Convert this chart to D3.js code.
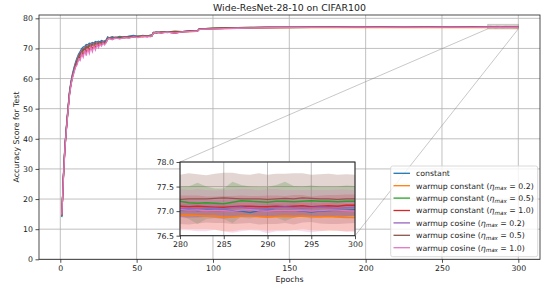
<!DOCTYPE html>
<html>
<head>
<meta charset="utf-8">
<script src="https://cdn.jsdelivr.net/npm/d3@7"></script>
<style>
    body { margin: 0; background: #fff; }
    svg { display: block; font-family: "DejaVu Sans", sans-serif; }
</style>
</head>
<body>
<div id="chart"></div>
<script>
// epochs sampled for the full run (the last 20 epochs come from the inset arrays)
let mainEpochs = [
    1, 2, 3, 4, 5, 6, 7, 8, 9, 10,
    11, 12, 13, 14, 15, 16, 17, 18, 19, 20,
    21, 22, 23, 24, 25, 26, 27, 28, 29, 30,
    31, 32, 34, 36, 39, 42, 45, 48, 51, 54,
    57, 59, 60, 61, 63, 66, 70, 75, 80, 85,
    89, 90, 91, 95, 100, 108, 116, 125, 135, 145,
    155, 165, 180, 195, 210, 225, 240, 255, 270
];
let insetEpochs = [280, 281, 282, 283, 284, 285, 286, 287, 288, 289, 290,
    291, 292, 293, 294, 295, 296, 297, 298, 299, 300];

let seriesNames = ["constant", "warmup constant", "warmup constant", "warmup constant",
    "warmup cosine", "warmup cosine", "warmup cosine"];
let etaMax = [null, 0.2, 0.5, 1.0, 0.2, 0.5, 1.0];

let constantMain = [
    14.0, 27.4, 37.6, 44.2, 50.1, 55.6, 59.1, 61.6, 63.7, 65.4,
    66.9, 68.1, 69.0, 69.9, 70.5, 70.7, 71.3, 71.2, 71.7, 71.6,
    72.0, 71.8, 72.3, 72.1, 72.4, 72.2, 72.6, 72.4, 72.5, 72.8,
    73.8, 73.5, 73.9, 73.6, 74.0, 73.7, 74.1, 74.3, 74.0, 74.3,
    74.1, 74.4, 74.4, 75.3, 75.5, 75.2, 75.6, 75.5, 75.6, 75.7,
    75.8, 75.9, 76.4, 76.5, 76.6, 76.7, 76.75, 76.85, 76.9, 76.9,
    76.95, 77.0, 77.0, 77.05, 77.0, 77.05, 77.0, 77.05, 77.0
];
let wc02Main = [
    14.6, 26.8, 36.9, 43.3, 49.6, 55.1, 58.3, 61.1, 62.9, 64.9,
    66.0, 67.6, 68.0, 69.3, 69.2, 70.4, 70.1, 71.0, 70.6, 71.4,
    71.1, 71.7, 71.3, 71.9, 71.6, 72.0, 71.8, 72.3, 71.9, 72.2,
    73.2, 73.6, 73.2, 73.7, 73.4, 73.8, 73.8, 73.7, 74.1, 73.8,
    74.2, 73.9, 74.1, 75.1, 75.3, 75.2, 75.4, 75.2, 75.5, 75.6,
    75.7, 75.8, 76.3, 76.4, 76.5, 76.6, 76.7, 76.75, 76.8, 76.85,
    76.9, 76.9, 76.95, 76.9, 76.95, 76.9, 76.95, 76.9, 76.9
];
let wc05Main = [
    14.3, 27.2, 37.1, 43.6, 49.4, 54.8, 58.6, 60.7, 63.2, 64.4,
    66.5, 66.8, 68.5, 68.1, 69.9, 69.0, 70.7, 69.8, 71.2, 70.2,
    71.5, 70.8, 71.8, 71.2, 72.0, 71.4, 72.1, 71.7, 72.2, 72.0,
    73.4, 73.2, 73.6, 73.3, 73.8, 73.5, 73.9, 73.8, 74.1, 74.0,
    74.0, 74.3, 74.3, 75.3, 75.1, 75.5, 75.3, 75.6, 75.5, 75.8,
    75.8, 75.9, 76.5, 76.6, 76.7, 76.8, 76.9, 76.95, 77.0, 77.05,
    77.1, 77.1, 77.15, 77.15, 77.2, 77.2, 77.2, 77.2, 77.2
];
let wc10Main = [
    14.7, 26.5, 36.6, 43.2, 49.0, 54.6, 58.0, 60.6, 62.4, 64.1,
    65.0, 67.0, 66.8, 68.6, 67.9, 69.7, 68.8, 70.3, 69.4, 70.8,
    69.9, 71.2, 70.4, 71.5, 70.9, 71.7, 71.2, 71.9, 71.6, 72.0,
    73.1, 73.4, 73.0, 73.5, 73.3, 73.7, 73.5, 73.9, 73.8, 74.1,
    73.9, 74.2, 74.2, 75.2, 75.4, 75.2, 75.5, 75.0, 75.6, 75.7,
    75.8, 75.8, 76.4, 76.5, 76.6, 76.7, 76.8, 76.9, 76.95, 77.0,
    77.0, 77.05, 77.1, 77.1, 77.1, 77.1, 77.1, 77.1, 77.1
];
let cos02Main = [
    14.4, 27.1, 37.2, 43.8, 49.7, 55.2, 58.7, 61.2, 63.1, 65.0,
    66.4, 67.5, 68.5, 69.1, 69.9, 70.2, 70.8, 70.7, 71.3, 71.1,
    71.6, 71.4, 71.9, 71.6, 72.1, 71.8, 72.2, 72.0, 72.3, 72.3,
    73.4, 73.6, 73.3, 73.7, 73.5, 73.9, 73.7, 74.1, 73.9, 74.2,
    74.0, 74.2, 74.2, 75.2, 75.4, 75.3, 75.5, 75.4, 75.6, 75.7,
    75.8, 75.8, 76.4, 76.5, 76.6, 76.7, 76.8, 76.9, 76.95, 77.0,
    77.0, 77.05, 77.05, 77.1, 77.1, 77.1, 77.1, 77.1, 77.1
];
let cos05Main = [
    14.5, 27.0, 36.8, 43.4, 49.3, 54.9, 58.4, 60.9, 62.8, 64.7,
    66.1, 67.1, 68.4, 68.7, 69.8, 69.6, 70.6, 70.3, 71.1, 70.9,
    71.4, 71.3, 71.8, 71.5, 71.9, 71.7, 72.1, 71.9, 72.2, 72.1,
    73.3, 73.5, 73.4, 73.6, 73.6, 73.8, 73.8, 74.0, 73.9, 74.2,
    74.1, 74.3, 74.2, 75.3, 75.2, 75.5, 75.4, 75.7, 75.6, 75.8,
    75.9, 75.9, 76.5, 76.6, 76.7, 76.8, 76.9, 77.0, 77.05, 77.1,
    77.1, 77.15, 77.2, 77.2, 77.25, 77.25, 77.25, 77.25, 77.25
];
let cos10Main = [
    14.8, 26.3, 36.4, 42.9, 48.8, 54.3, 57.8, 60.2, 62.0, 63.8,
    64.6, 66.5, 66.0, 68.2, 67.1, 69.4, 67.6, 70.0, 68.3, 70.5,
    68.9, 70.9, 69.5, 71.3, 70.2, 71.5, 70.8, 71.8, 71.2, 71.9,
    73.0, 73.3, 72.9, 73.4, 73.2, 73.6, 73.4, 73.8, 73.6, 74.0,
    73.8, 74.1, 74.1, 75.1, 75.3, 75.1, 75.4, 75.1, 75.5, 75.6,
    75.7, 75.8, 76.3, 76.4, 76.5, 76.6, 76.7, 76.8, 76.9, 76.95,
    77.0, 77.0, 77.0, 77.05, 77.0, 77.05, 77.0, 77.05, 77.0
];

// last 20 epochs: mean and std over runs
let constantMean = [77.02, 77.03, 77.01, 77.02, 77.03, 77.02, 77.01, 77.00, 76.97, 77.01, 77.02,
    77.02, 77.01, 77.02, 77.00, 76.98, 77.00, 77.01, 77.02, 77.02, 77.03];
let constantStd = [0.12, 0.12, 0.13, 0.12, 0.12, 0.11, 0.12, 0.13, 0.12, 0.12, 0.12,
    0.13, 0.12, 0.12, 0.12, 0.13, 0.12, 0.12, 0.11, 0.12, 0.12];
let wc02Mean = [76.92, 76.92, 76.91, 76.90, 76.90, 76.87, 76.88, 76.90, 76.90, 76.89, 76.88,
    76.89, 76.90, 76.89, 76.90, 76.89, 76.88, 76.89, 76.88, 76.87, 76.87];
let wc02Std = [0.28, 0.29, 0.28, 0.27, 0.28, 0.28, 0.29, 0.28, 0.28, 0.27, 0.28,
    0.28, 0.29, 0.28, 0.27, 0.28, 0.28, 0.29, 0.28, 0.28, 0.27];
let wc05Mean = [77.20, 77.17, 77.16, 77.17, 77.16, 77.15, 77.18, 77.21, 77.20, 77.19, 77.18,
    77.20, 77.20, 77.19, 77.20, 77.21, 77.20, 77.20, 77.19, 77.20, 77.20];
let wc05Std = [0.30, 0.33, 0.42, 0.33, 0.30, 0.31, 0.42, 0.32, 0.30, 0.30, 0.31,
    0.33, 0.40, 0.32, 0.30, 0.31, 0.30, 0.30, 0.31, 0.32, 0.31];
let wc10Mean = [77.10, 77.09, 77.10, 77.09, 77.08, 77.08, 77.09, 77.10, 77.10, 77.09, 77.09,
    77.10, 77.09, 77.10, 77.11, 77.09, 77.10, 77.11, 77.10, 77.12, 77.12];
let wc10Std = [0.22, 0.23, 0.22, 0.21, 0.22, 0.23, 0.22, 0.22, 0.21, 0.22, 0.23,
    0.22, 0.22, 0.23, 0.22, 0.21, 0.22, 0.22, 0.23, 0.22, 0.22];
let cos02Mean = [77.05, 77.06, 77.05, 77.06, 77.06, 77.05, 77.07, 77.08, 77.06, 77.06, 77.05,
    77.07, 77.08, 77.07, 77.06, 77.07, 77.08, 77.07, 77.06, 77.07, 77.08];
let cos02Std = [0.18, 0.18, 0.19, 0.18, 0.17, 0.18, 0.18, 0.19, 0.18, 0.18, 0.17,
    0.18, 0.18, 0.19, 0.18, 0.18, 0.17, 0.18, 0.18, 0.19, 0.18];
let cos05Mean = [77.24, 77.25, 77.25, 77.25, 77.26, 77.27, 77.26, 77.25, 77.25, 77.25, 77.24,
    77.25, 77.26, 77.25, 77.27, 77.26, 77.25, 77.25, 77.24, 77.25, 77.25];
let cos05Std = [0.50, 0.52, 0.50, 0.48, 0.50, 0.51, 0.52, 0.50, 0.49, 0.52, 0.50,
    0.51, 0.50, 0.52, 0.50, 0.48, 0.50, 0.51, 0.50, 0.50, 0.49];
let cos10Mean = [77.03, 77.02, 77.02, 77.01, 77.02, 77.01, 77.00, 77.02, 77.03, 77.01, 77.00,
    77.02, 77.01, 77.02, 77.01, 77.00, 77.01, 77.02, 77.02, 77.01, 77.00];
let cos10Std = [0.42, 0.41, 0.43, 0.42, 0.40, 0.42, 0.44, 0.43, 0.42, 0.41, 0.45,
    0.43, 0.42, 0.41, 0.42, 0.43, 0.42, 0.41, 0.42, 0.43, 0.42];

let mainTicksX = [0, 50, 100, 150, 200, 250, 300];
let mainTicksY = [0, 10, 20, 30, 40, 50, 60, 70, 80];
let insetTicksX = [280, 285, 290, 295, 300];
let insetTicksY = [76.5, 77.0, 77.5, 78.0];

function graph(id) {
    let colours = ["#1f77b4", "#ff7f0e", "#2ca02c", "#d62728", "#9467bd", "#8c564b", "#e377c2"];
    let mains = [constantMain, wc02Main, wc05Main, wc10Main, cos02Main, cos05Main, cos10Main];
    let means = [constantMean, wc02Mean, wc05Mean, wc10Mean, cos02Mean, cos05Mean, cos10Mean];
    let stds = [constantStd, wc02Std, wc05Std, wc10Std, cos02Std, cos05Std, cos10Std];

    let series = seriesNames.map((name, k) => ({
        name: name,
        eta: etaMax[k],
        colour: colours[k],
        line: mainEpochs.map((e, i) => ({ x: e, y: mains[k][i] }))
            .concat(insetEpochs.map((e, i) => ({ x: e, y: means[k][i] }))),
        band: insetEpochs.map((e, i) => ({ x: e, y: means[k][i], s: stds[k][i] }))
    }));

    let width = 541, height = 285;
    let svg = d3.select(id).append("svg")
        .attr("width", width)
        .attr("height", height);

    // main axes
    let x = d3.scaleLinear().domain([-13.95, 314.2]).range([39, 540]);
    let y = d3.scaleLinear().domain([0, 81.1]).range([259.3, 15]);

    svg.append("defs").append("clipPath").attr("id", "clipMain")
        .append("rect").attr("x", 39).attr("y", 15).attr("width", 501).attr("height", 244.3);

    let grid = svg.append("g").attr("stroke", "#b0b0b0").attr("stroke-width", 0.8);
    grid.selectAll(".gx").data(mainTicksX).enter().append("line")
        .attr("x1", d => x(d)).attr("x2", d => x(d)).attr("y1", 15).attr("y2", 259.3);
    grid.selectAll(".gy").data(mainTicksY).enter().append("line")
        .attr("x1", 39).attr("x2", 540).attr("y1", d => y(d)).attr("y2", d => y(d));

    let plot = svg.append("g").attr("clip-path", "url(#clipMain)");
    let area = d3.area().x(d => x(d.x)).y0(d => y(d.y - d.s)).y1(d => y(d.y + d.s));
    let line = d3.line().x(d => x(d.x)).y(d => y(d.y));
    series.forEach(s => {
        plot.append("path").datum(s.band).attr("d", area)
            .attr("fill", s.colour).attr("fill-opacity", 0.25);
        plot.append("path").datum(s.line).attr("d", line)
            .attr("fill", "none").attr("stroke", s.colour).attr("stroke-width", 1.3);
    });

    let xAxis = svg.append("g").attr("transform", "translate(0,259.3)")
        .call(d3.axisBottom(x).tickValues(mainTicksX).tickSize(3.5).tickPadding(2.5).tickSizeOuter(0));
    let yAxis = svg.append("g").attr("transform", "translate(39,0)")
        .call(d3.axisLeft(y).tickValues(mainTicksY).tickSize(3.5).tickPadding(2.5).tickSizeOuter(0));
    [xAxis, yAxis].forEach(a => {
        a.select(".domain").remove();
        a.selectAll("text").attr("font-size", 7.8).attr("fill", "#222")
            .attr("font-family", "DejaVu Sans");
        a.selectAll("line").attr("stroke", "#222").attr("stroke-width", 0.8);
    });

    svg.append("rect").attr("x", 39).attr("y", 15).attr("width", 501).attr("height", 244.3)
        .attr("fill", "none").attr("stroke", "#222").attr("stroke-width", 0.8);

    // inset axes
    let ix = d3.scaleLinear().domain([280, 300]).range([180, 355]);
    let iy = d3.scaleLinear().domain([76.5, 78]).range([235.7, 162]);

    // zoom indicator rectangle and connectors
    let zoomBox = svg.append("g").attr("stroke", "#808080").attr("stroke-opacity", 0.55)
        .attr("stroke-width", 0.8).attr("fill", "none");
    zoomBox.append("rect").attr("x", x(280)).attr("y", y(78))
        .attr("width", x(300) - x(280)).attr("height", y(76.5) - y(78));
    zoomBox.append("line").attr("x1", ix(280)).attr("y1", iy(78))
        .attr("x2", x(280)).attr("y2", y(76.5));
    zoomBox.append("line").attr("x1", ix(300)).attr("y1", iy(76.5))
        .attr("x2", x(300)).attr("y2", y(76.5));

    svg.select("defs").append("clipPath").attr("id", "clipInset")
        .append("rect").attr("x", 180).attr("y", 162).attr("width", 175).attr("height", 73.7);

    let inset = svg.append("g");
    inset.append("rect").attr("x", 180).attr("y", 162).attr("width", 175).attr("height", 73.7)
        .attr("fill", "#fff");
    let igrid = inset.append("g").attr("stroke", "#b0b0b0").attr("stroke-width", 0.8);
    igrid.selectAll(".gx").data(insetTicksX).enter().append("line")
        .attr("x1", d => ix(d)).attr("x2", d => ix(d)).attr("y1", 162).attr("y2", 235.7);
    igrid.selectAll(".gy").data(insetTicksY).enter().append("line")
        .attr("x1", 180).attr("x2", 355).attr("y1", d => iy(d)).attr("y2", d => iy(d));

    let iplot = inset.append("g").attr("clip-path", "url(#clipInset)");
    let iarea = d3.area().x(d => ix(d.x)).y0(d => iy(d.y - d.s)).y1(d => iy(d.y + d.s));
    let iline = d3.line().x(d => ix(d.x)).y(d => iy(d.y));
    series.forEach(s => {
        iplot.append("path").datum(s.band).attr("d", iarea)
            .attr("fill", s.colour).attr("fill-opacity", 0.25);
    });
    series.forEach(s => {
        iplot.append("path").datum(s.band).attr("d", iline)
            .attr("fill", "none").attr("stroke", s.colour).attr("stroke-width", 1.4);
    });

    let ixAxis = inset.append("g").attr("transform", "translate(0,235.7)")
        .call(d3.axisBottom(ix).tickValues(insetTicksX).tickSize(3.5).tickPadding(2.5).tickSizeOuter(0));
    let iyAxis = inset.append("g").attr("transform", "translate(180,0)")
        .call(d3.axisLeft(iy).tickValues(insetTicksY).tickFormat(d3.format(".1f"))
            .tickSize(3.5).tickPadding(2.5).tickSizeOuter(0));
    [ixAxis, iyAxis].forEach(a => {
        a.select(".domain").remove();
        a.selectAll("text").attr("font-size", 7.8).attr("fill", "#222")
            .attr("font-family", "DejaVu Sans");
        a.selectAll("line").attr("stroke", "#222").attr("stroke-width", 0.8);
    });
    inset.append("rect").attr("x", 180).attr("y", 162).attr("width", 175).attr("height", 73.7)
        .attr("fill", "none").attr("stroke", "#222").attr("stroke-width", 1);

    // titles
    svg.append("text").attr("x", 289.5).attr("y", 11).attr("text-anchor", "middle")
        .attr("font-size", 9.4).attr("fill", "#222").text("Wide-ResNet-28-10 on CIFAR100");
    svg.append("text").attr("x", 289.5).attr("y", 282).attr("text-anchor", "middle")
        .attr("font-size", 7.8).attr("fill", "#222").text("Epochs");
    svg.append("text").attr("transform", "translate(19,137) rotate(-90)").attr("text-anchor", "middle")
        .attr("font-size", 7.8).attr("fill", "#222").text("Accuracy Score for Test");

    // legend
    let legend = svg.append("g");
    legend.append("rect").attr("x", 390.7).attr("y", 166).attr("width", 147).attr("height", 90.7)
        .attr("rx", 2).attr("fill", "#fff").attr("fill-opacity", 0.8)
        .attr("stroke", "#d0d0d0").attr("stroke-width", 0.8);
    let rows = legend.selectAll(".row").data(series).enter().append("g")
        .attr("transform", (d, i) => `translate(0,${173.3 + i * 12.4})`);
    rows.append("line").attr("x1", 393.5).attr("x2", 410).attr("y1", 0).attr("y2", 0)
        .attr("stroke", d => d.colour).attr("stroke-width", 1.3);
    let label = rows.append("text").attr("x", 416).attr("y", 2.8)
        .attr("font-size", 7.8).attr("fill", "#222");
    label.append("tspan").text(d => d.eta === null ? d.name : d.name + " (");
    let withEta = label.filter(d => d.eta !== null);
    withEta.append("tspan").attr("font-style", "italic").text("\u03b7");
    withEta.append("tspan").attr("font-style", "italic").attr("font-size", 5.6)
        .attr("dy", 1.6).text("max");
    withEta.append("tspan").attr("dy", -1.6).text(d => " = " + d3.format(".1f")(d.eta) + ")");
}

graph("#chart");
</script>
</body>
</html>
